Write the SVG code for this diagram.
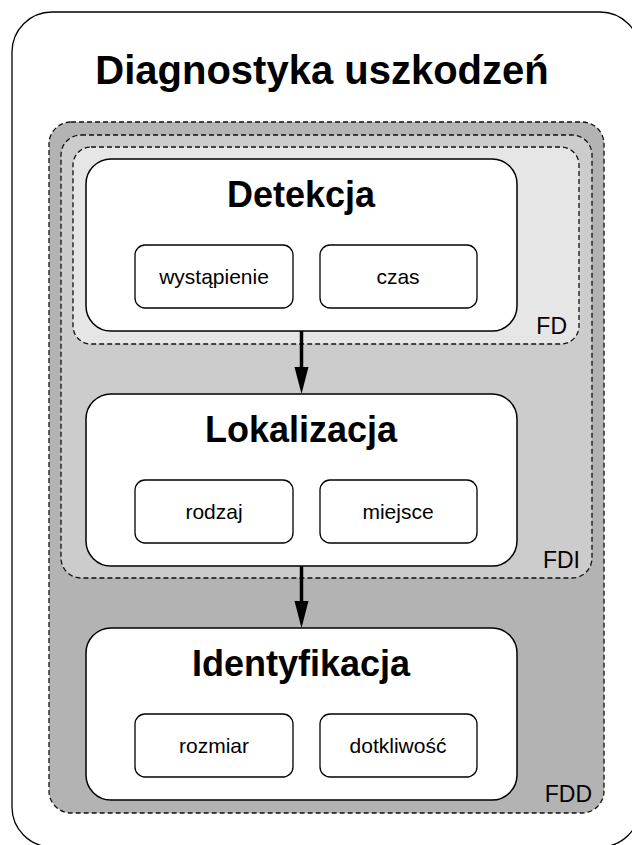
<svg xmlns="http://www.w3.org/2000/svg" width="632" height="845" viewBox="0 0 632 845">
<defs>
<style>
.area{stroke:#111;stroke-width:1.3;stroke-dasharray:5 3}
.node{fill:#fff;stroke:#000;stroke-width:1.5}
.sub{fill:#fff;stroke:#000;stroke-width:1.3}
.t{font-family:"Liberation Sans",Arial,sans-serif;fill:#000}
.h{font-size:36px;font-weight:bold;text-anchor:middle}
.s{font-size:21px;text-anchor:middle}
.lab{font-size:23px;text-anchor:end}
</style>
</defs>
<rect width="632" height="845" fill="#fff"/>
<g id="frame">
<rect x="12" y="12" width="628" height="835" rx="40" fill="#fff" stroke="#000" stroke-width="1.3"/>
<text class="t" x="322" y="84" font-size="40" font-weight="bold" text-anchor="middle">Diagnostyka uszkodzeń</text>
</g>
<g id="FDD">
<rect class="area" x="49" y="122" width="555" height="691" rx="22" fill="#b3b3b3"/>
<text class="t lab" x="592" y="802">FDD</text>
</g>
<g id="FDI">
<rect class="area" x="61" y="135" width="531" height="443" rx="20" fill="#cccccc"/>
<text class="t lab" x="580" y="568">FDI</text>
</g>
<g id="FD">
<rect class="area" x="73" y="147" width="506" height="197" rx="18" fill="#e6e6e6"/>
<text class="t lab" x="567" y="334">FD</text>
</g>
<g id="detekcja">
<rect class="node" x="86" y="159" width="431" height="172" rx="25"/>
<text class="t h" x="301" y="207">Detekcja</text>
<rect class="sub" x="135" y="245" width="158" height="63" rx="10"/>
<text class="t s" x="214" y="284">wystąpienie</text>
<rect class="sub" x="320" y="245" width="157" height="63" rx="10"/>
<text class="t s" x="398" y="284">czas</text>
</g>
<g id="lokalizacja">
<rect class="node" x="86" y="394" width="431" height="172" rx="25"/>
<text class="t h" x="301" y="442">Lokalizacja</text>
<rect class="sub" x="135" y="480" width="158" height="63" rx="10"/>
<text class="t s" x="214" y="519">rodzaj</text>
<rect class="sub" x="320" y="480" width="157" height="63" rx="10"/>
<text class="t s" x="398" y="519">miejsce</text>
</g>
<g id="identyfikacja">
<rect class="node" x="86" y="628" width="431" height="172" rx="25"/>
<text class="t h" x="301" y="676">Identyfikacja</text>
<rect class="sub" x="135" y="714" width="158" height="63" rx="10"/>
<text class="t s" x="214" y="753">rozmiar</text>
<rect class="sub" x="320" y="714" width="157" height="63" rx="10"/>
<text class="t s" x="398" y="753">dotkliwość</text>
</g>
<g id="connectors" fill="#000" stroke="#000">
<line x1="301.5" y1="331" x2="301.5" y2="368" stroke-width="3.5"/>
<polygon points="294.5,367 308.5,367 301.5,394" stroke="none"/>
<line x1="301.5" y1="566" x2="301.5" y2="602" stroke-width="3.5"/>
<polygon points="294.5,601 308.5,601 301.5,628" stroke="none"/>
</g>
</svg>
